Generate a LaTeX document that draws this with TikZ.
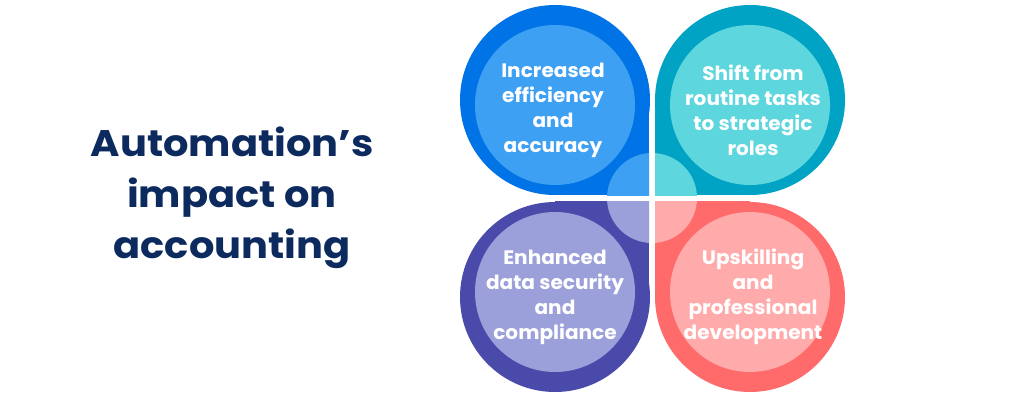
\documentclass[tikz,border=0pt]{standalone}
\usepackage{fontspec}
\setmainfont{Poppins}
\definecolor{navy}{HTML}{0D2A5F}
\definecolor{oA}{HTML}{0073E6}\definecolor{iA}{HTML}{3EA0F2}
\definecolor{oB}{HTML}{00A3C4}\definecolor{iB}{HTML}{5DD6DE}
\definecolor{oC}{HTML}{4A4AAA}\definecolor{iC}{HTML}{9BA0DA}
\definecolor{oD}{HTML}{FF6B6B}\definecolor{iD}{HTML}{FFABAB}
\tikzset{lbl/.style={text=white,font=\fontsize{19.5}{25}\selectfont\bfseries,align=center,xscale=1.03}}
\begin{document}
\begin{tikzpicture}[x=1pt,y=-1pt]
\useasboundingbox (0,0) rectangle (1024,400);
% TL
\fill[oA] (555,100) circle(95); \fill[oA] (555,100) rectangle (649,195);
\fill[iA] (555,105) circle(80);
\begin{scope}\clip (555,100) rectangle (649,195); \fill[iA] (652,198) circle(45);\end{scope}
% TR
\fill[oB] (750,100) circle(95); \fill[oB] (655,100) rectangle (750,195);
\fill[iB] (750,105) circle(80);
\begin{scope}\clip (655,100) rectangle (750,195); \fill[iB] (652,198) circle(45);\end{scope}
% BL
\fill[oC] (555,297) circle(95); \fill[oC] (555,201) rectangle (649,297);
\fill[iC] (555,292) circle(80);
\begin{scope}\clip (555,201) rectangle (649,297); \fill[iC] (652,198) circle(45);\end{scope}
% BR
\fill[oD] (750,297) circle(95); \fill[oD] (655,201) rectangle (750,297);
\fill[iD] (750,292) circle(80);
\begin{scope}\clip (655,201) rectangle (750,297); \fill[iD] (652,198) circle(45);\end{scope}
\node[lbl] (a) at (553,110) {Increased\\efficiency\\and\\accuracy};
\node[lbl] (b) at (753,110) {Shift from\\routine tasks\\to strategic\\roles};
\node[lbl] (c) at (555,297) {Enhanced\\data security\\and\\compliance};
\node[lbl] (d) at (753,297) {Upskilling\\and\\professional\\development};
\node[text=navy,font=\fontsize{37}{51}\selectfont\bfseries,align=center,xscale=1.08] (t) at (232,198) {Automation's\\impact on\\accounting};
\end{tikzpicture}
\end{document}
